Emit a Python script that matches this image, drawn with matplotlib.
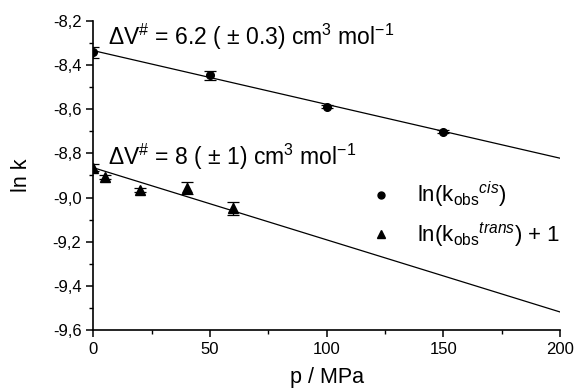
import matplotlib
matplotlib.use("Agg")
import matplotlib.pyplot as plt
from matplotlib.ticker import MultipleLocator, FuncFormatter
from matplotlib.lines import Line2D

plt.rcParams['font.family'] = ['Liberation Sans', 'DejaVu Sans']
plt.rcParams['mathtext.fontset'] = 'custom'
plt.rcParams['mathtext.rm'] = 'Liberation Sans'
plt.rcParams['mathtext.it'] = 'Liberation Sans:italic'
plt.rcParams['mathtext.bf'] = 'Liberation Sans:bold'

# Data
p_cis = [0, 50, 100, 150]
lnk_cis = [-8.343, -8.447, -8.589, -8.702]
err_cis = [0.025, 0.02, 0.006, 0.006]

p_trans = [0, 5, 20, 40, 60]
lnk_trans = [-8.865, -8.908, -8.966, -8.958, -9.049]
err_trans = [0.017, 0.01, 0.008, 0.028, 0.028]

fit_p = [0, 200]
fit_cis = [-8.335, -8.822]
fit_trans = [-8.865, -9.518]

fig = plt.figure(figsize=(5.77, 3.92), dpi=100)
ax = fig.add_axes([0.1617, 0.158, 0.8088, 0.789])

ax.plot(fit_p, fit_cis, color='black', lw=0.9)
ax.plot(fit_p, fit_trans, color='black', lw=0.9)
ax.errorbar(p_cis, lnk_cis, yerr=err_cis, fmt='o', color='black', ms=5.5,
            capsize=4, elinewidth=0.9, capthick=0.9)
ax.errorbar(p_trans, lnk_trans, yerr=err_trans, fmt='^', color='black', ms=7,
            capsize=4, elinewidth=0.9, capthick=0.9)

ax.set_xlim(0, 200)
ax.set_ylim(-9.6, -8.2)
ax.spines['top'].set_visible(False)
ax.spines['right'].set_visible(False)
ax.spines['left'].set_linewidth(1.2)
ax.spines['bottom'].set_linewidth(1.2)
ax.xaxis.set_major_locator(MultipleLocator(50))
ax.xaxis.set_minor_locator(MultipleLocator(25))
ax.yaxis.set_major_locator(MultipleLocator(0.2))
ax.yaxis.set_minor_locator(MultipleLocator(0.1))
ax.yaxis.set_major_formatter(FuncFormatter(lambda v, pos: f"{v:.1f}".replace('.', ',')))
ax.tick_params(which='major', direction='out', length=5, width=1.1, labelsize=12)
ax.tick_params(which='minor', direction='out', length=3, width=1.0)

ax.set_xlabel('p / MPa', fontsize=15.5, labelpad=7)
ax.set_ylabel('ln k', fontsize=15.5, labelpad=15)

ax.text(6.5, -8.31, r'$\Delta$V$^{\#}$ = 6.2 ( ± 0.3) cm$^{3}$ mol$^{-1}$', fontsize=16.5, va='baseline')
ax.text(6.5, -8.853, r'$\Delta$V$^{\#}$ = 8 ( ± 1) cm$^{3}$ mol$^{-1}$', fontsize=16.5, va='baseline')

handles = [Line2D([], [], ls='none', marker='o', color='black', ms=5),
           Line2D([], [], ls='none', marker='^', color='black', ms=6)]
labels = [r'ln(k$_{\mathrm{obs}}$$^{\mathit{cis}}$)', r'ln(k$_{\mathrm{obs}}$$^{\mathit{trans}}$) + 1']
leg = ax.legend(handles, labels, loc='upper left', bbox_to_anchor=(0.55, 0.55), frameon=False, fontsize=16,
                handlelength=1.0, handletextpad=1.1, labelspacing=0.45)

fig.savefig('out.png', dpi=100)
